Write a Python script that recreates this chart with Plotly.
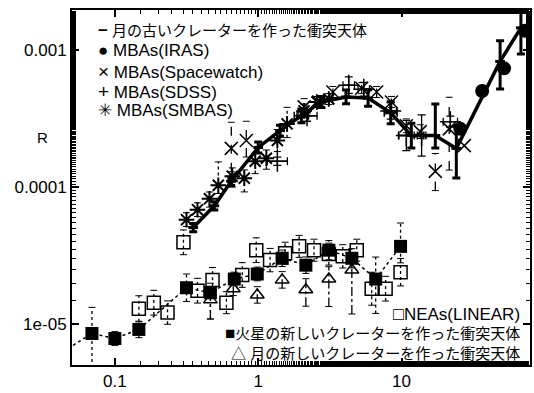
import plotly.graph_objects as go

# ---------------- data ----------------
# Lunar old-crater impactors (thick solid line)
lunar_old_x = [0.352, 0.494, 0.648, 1.0, 1.42, 2.0, 2.75, 4.1, 5.84, 8.4, 11.7, 17.2, 24.1, 48.7, 68.0]
lunar_old_y = [5.07e-5, 7.3e-5, 1.10e-4, 1.94e-4, 2.57e-4, 3.30e-4, 4.16e-4, 4.52e-4, 4.44e-4,
               3.47e-4, 2.37e-4, 2.37e-4, 1.91e-4, 8.2e-4, 1.44e-3]
lunar_old_up_dex = [0.03, 0.03, 0.03, 0.04, 0.04, 0.05, 0.04, 0.05, 0.06, 0.08, 0.09, 0.23, 0.165, 0.15, 0.13]
lunar_old_dn_dex = [0.03, 0.03, 0.03, 0.04, 0.04, 0.05, 0.04, 0.05, 0.06, 0.08, 0.09, 0.09, 0.216, 0.20, 0.19]
lunar_old_xerr_dex = [0, 0, 0, 0, 0, 0.05, 0, 0, 0, 0.045, 0.087, 0, 0, 0, 0]

# MBAs (IRAS)
iras_x = [25.7, 36.5, 51.9, 72.6]
iras_y = [2.65e-4, 4.99e-4, 7.3e-4, 1.37e-3]

# MBAs (Spacewatch)
sw_x = [0.649, 0.826, 2.09, 2.65, 3.32, 5.27, 6.7, 8.5, 10.8, 13.5, 17.2, 21.5, 27.4]
sw_y = [1.91e-4, 2.18e-4, 3.83e-4, 4.16e-4, 4.91e-4, 5.24e-4, 4.91e-4, 4.16e-4, 2.79e-4,
        2.53e-4, 1.30e-4, 2.65e-4, 2.00e-4]
sw_up_dex = [0.19, 0.14, 0.06, 0.04, 0.04, 0.04, 0.04, 0.04, 0.05, 0.05, 0.13, 0.23, 0.0]
sw_dn_dex = [0.17, 0.12, 0.06, 0.04, 0.04, 0.04, 0.04, 0.04, 0.05, 0.05, 0.14, 0.30, 0.0]

# MBAs (SDSS)
sdss_x = [1.36, 2.19, 4.28, 5.45, 8.4, 10.8, 13.8, 21.9]
sdss_y = [1.54e-4, 3.30e-4, 5.51e-4, 5.15e-4, 3.58e-4, 2.37e-4, 2.37e-4, 2.99e-4]
sdss_yerr_dex = [0.03, 0.04, 0.06, 0.05, 0.06, 0.11, 0.15, 0.04]
sdss_xerr_dex = [0.07, 0.07, 0.04, 0.04, 0.04, 0.055, 0.03, 0.05]

# MBAs (SMBAS)
smbas_x = [0.316, 0.377, 0.457, 0.527, 0.659, 0.80, 0.953, 1.14, 1.36, 1.59, 2.09, 2.57, 3.11]
smbas_y = [5.79e-5, 6.84e-5, 8.2e-5, 1.03e-4, 1.20e-4, 1.16e-4, 1.54e-4, 1.62e-4, 2.18e-4,
           2.88e-4, 3.58e-4, 4.16e-4, 4.37e-4]
smbas_up_dex = [0.05, 0.05, 0.05, 0.17, 0.06, 0.06, 0.06, 0.06, 0.08, 0.12, 0.05, 0.04, 0.04]
smbas_dn_dex = [0.05, 0.05, 0.06, 0.06, 0.08, 0.10, 0.09, 0.08, 0.08, 0.10, 0.05, 0.04, 0.04]

# NEAs (LINEAR)
nea_x = [0.147, 0.187, 0.233, 0.301, 0.377, 0.480, 0.600, 0.774, 0.969, 1.21, 1.54, 1.93,
         2.45, 3.11, 3.89, 4.87, 6.19, 7.74, 9.84]
nea_y = [1.30e-5, 1.44e-5, 1.22e-5, 3.96e-5, 1.76e-5, 2.11e-5, 1.44e-5, 2.29e-5, 3.47e-5,
         2.94e-5, 3.30e-5, 3.70e-5, 3.47e-5, 3.25e-5, 3.13e-5, 3.47e-5, 1.82e-5, 1.82e-5, 2.40e-5]
nea_err_dex = [0.095, 0.09, 0.085, 0.09, 0.09, 0.09, 0.08, 0.09, 0.09, 0.085, 0.08, 0.08,
               0.08, 0.08, 0.085, 0.08, 0.12, 0.09, 0.10]

# Mars new-crater impactors
mars_x = [0.04, 0.0692, 0.100, 0.147, 0.316, 0.464, 0.681, 0.985, 1.47, 2.15, 3.11, 4.50, 6.6, 9.84]
mars_y = [6.0e-6, 8.6e-6, 7.9e-6, 9.2e-6, 1.85e-5, 1.70e-5, 2.14e-5, 2.33e-5, 3.03e-5, 2.70e-5,
          3.47e-5, 3.03e-5, 2.14e-5, 3.70e-5]
mars_up_dex = [0, 0.19, 0.05, 0.06, 0.10, 0.07, 0.05, 0.05, 0.06, 0.06, 0.07, 0.07, 0.16, 0.17]
mars_dn_dex = [0, 0.60, 0.05, 0.06, 0.10, 0.19, 0.05, 0.05, 0.06, 0.06, 0.07, 0.07, 0.25, 0.12]

# Moon new-crater impactors
moon_new_x = [0.464, 0.670, 0.985, 1.47, 2.15, 3.11, 4.50]
moon_new_y = [1.51e-5, 1.82e-5, 1.64e-5, 2.11e-5, 1.79e-5, 2.14e-5, 2.49e-5]
moon_new_up_dex = [0.05, 0.05, 0.06, 0.06, 0.08, 0.09, 0.10]
moon_new_dn_dex = [0.14, 0.05, 0.06, 0.06, 0.12, 0.20, 0.32]

# axis ticks
x_tickvals = [0.1, 1, 10]
x_ticktext = ["0.1", "1", "10"]
y_tickvals = [1e-5, 1e-4, 1e-3]
y_ticktext = ["1e-05", "0.0001", "0.001"]

# legend texts
top_legend_symbols = ["<b>−</b>", "●", "×", "+", "✳"]
top_legend_labels = ["月の古いクレーターを作った衝突天体", "MBAs(IRAS)", "MBAs(Spacewatch)",
                     "MBAs(SDSS)", "MBAs(SMBAS)"]
bottom_legend_symbols = ["□", "■", "△ "]
bottom_legend_labels = ["NEAs(LINEAR)", "火星の新しいクレーターを作った衝突天体",
                        "月の新しいクレーターを作った衝突天体"]

# ---------------- helpers ----------------
FONT = "Liberation Sans, Arial, Noto Sans CJK JP, sans-serif"


def up_err(y, d):
    return [v * (10 ** e - 1) for v, e in zip(y, d)]


def dn_err(y, d):
    return [v * (1 - 10 ** (-e)) for v, e in zip(y, d)]


def bar_segments(xs, ys, up, dn):
    X, Y = [], []
    for x, y, u, d in zip(xs, ys, up, dn):
        if u == 0 and d == 0:
            continue
        X += [x, x, None]
        Y += [y / 10 ** d, y * 10 ** u, None]
    return X, Y


def bar_trace(xs, ys, up, dn, dash, width=1.3):
    X, Y = bar_segments(xs, ys, up, dn)
    return go.Scatter(x=X, y=Y, mode="lines+markers",
                      line=dict(color="black", width=width, dash=dash),
                      marker=dict(symbol="line-ew-open", size=5, color="black", line=dict(width=1)),
                      hoverinfo="skip", showlegend=False)


fig = go.Figure()

# dashed / dotted error bars
fig.add_trace(bar_trace(nea_x, nea_y, nea_err_dex, nea_err_dex, "dot"))
fig.add_trace(bar_trace(mars_x, mars_y, mars_up_dex, mars_dn_dex, "dot"))
fig.add_trace(bar_trace(moon_new_x, moon_new_y, moon_new_up_dex, moon_new_dn_dex, "dashdot"))
fig.add_trace(bar_trace(sw_x, sw_y, sw_up_dex, sw_dn_dex, "dash"))
fig.add_trace(bar_trace(smbas_x, smbas_y, smbas_up_dex, smbas_dn_dex, "dot"))

# NEAs (LINEAR)
fig.add_trace(go.Scatter(x=nea_x, y=nea_y, mode="markers",
                         marker=dict(symbol="square-open", size=13, color="black", line=dict(width=1.5))))
# Mars new craters
fig.add_trace(go.Scatter(x=mars_x, y=mars_y, mode="lines+markers",
                         line=dict(color="black", width=1.5, dash="dot"),
                         marker=dict(symbol="square", size=13, color="black")))
# Moon new craters
fig.add_trace(go.Scatter(x=moon_new_x, y=moon_new_y, mode="markers",
                         marker=dict(symbol="triangle-up-open", size=12, color="black", line=dict(width=1.5))))

# SMBAS
fig.add_trace(go.Scatter(x=smbas_x, y=smbas_y, mode="markers",
                         marker=dict(symbol="asterisk-open", size=13, color="black", line=dict(width=2))))
# Spacewatch
fig.add_trace(go.Scatter(x=sw_x, y=sw_y, mode="markers",
                         marker=dict(symbol="x-thin-open", size=13, color="black", line=dict(width=1.5))))
# SDSS
fig.add_trace(go.Scatter(x=sdss_x, y=sdss_y, mode="markers",
                         marker=dict(symbol="cross-thin-open", size=15, color="black", line=dict(width=1.5)),
                         error_y=dict(type="data", symmetric=False,
                                      array=up_err(sdss_y, sdss_yerr_dex),
                                      arrayminus=dn_err(sdss_y, sdss_yerr_dex),
                                      color="black", thickness=1.3, width=4),
                         error_x=dict(type="data", symmetric=False,
                                      array=up_err(sdss_x, sdss_xerr_dex),
                                      arrayminus=dn_err(sdss_x, sdss_xerr_dex),
                                      color="black", thickness=1.3, width=4)))
# Lunar old craters
fig.add_trace(go.Scatter(x=lunar_old_x, y=lunar_old_y, mode="lines+markers",
                         line=dict(color="black", width=3.5),
                         marker=dict(symbol="line-ew-open", size=7, color="black", line=dict(width=3)),
                         error_y=dict(type="data", symmetric=False,
                                      array=up_err(lunar_old_y, lunar_old_up_dex),
                                      arrayminus=dn_err(lunar_old_y, lunar_old_dn_dex),
                                      color="black", thickness=3, width=4),
                         error_x=dict(type="data", symmetric=False,
                                      array=up_err(lunar_old_x, lunar_old_xerr_dex),
                                      arrayminus=dn_err(lunar_old_x, lunar_old_xerr_dex),
                                      color="black", thickness=1.5, width=4)))
# IRAS
fig.add_trace(go.Scatter(x=iras_x, y=iras_y, mode="markers",
                         marker=dict(symbol="circle", size=14, color="black")))

# ---------------- layout ----------------
W, H = 534, 393
ML, MR, MT, MB = 72, 2, 10, 24
PW, PH = W - ML - MR, H - MT - MB


def px(xp):
    return (xp - ML) / PW


def py(yp):
    return (H - MB - yp) / PH


axis_common = dict(showline=True, linewidth=2, linecolor="black", mirror="allticks",
                   ticks="inside", ticklen=7, tickwidth=1.5, tickcolor="black",
                   showgrid=False, zeroline=False,
                   tickfont=dict(family=FONT, size=17, color="black"),
                   minor=dict(ticks="inside", ticklen=4, tickwidth=1, tickcolor="black", showgrid=False))

fig.update_layout(
    width=W, height=H,
    margin=dict(l=ML, r=MR, t=MT, b=MB),
    paper_bgcolor="white", plot_bgcolor="white",
    showlegend=False,
    font=dict(family=FONT, color="black"),
    xaxis=dict(type="log", range=[-1.299, 1.896], tickvals=x_tickvals, ticktext=x_ticktext, **axis_common),
    yaxis=dict(type="log", range=[-5.295, -2.712], tickvals=y_tickvals, ticktext=y_ticktext, **axis_common),
)

annotations = [dict(text="R", x=px(35), y=py(128), xref="paper", yref="paper",
                    showarrow=False, font=dict(family=FONT, size=15, color="black"))]


def sym_span(s, size):
    return '<span style="font-size:%dpx">%s</span>' % (size, s)


top_rows = [31, 51, 72, 92, 112]
top_sym_sizes = [17, 17, 19, 19, 17]
for sym, lab, yy, ss in zip(top_legend_symbols, top_legend_labels, top_rows, top_sym_sizes):
    size = 15 if lab[0] > "~" else 17
    annotations.append(dict(text=sym_span(sym, ss) + " " + lab, x=px(96), y=py(yy),
                            xref="paper", yref="paper",
                            xanchor="left", yanchor="middle", showarrow=False,
                            font=dict(family=FONT, size=size, color="black")))

bottom_rows = [317, 337, 357]
bottom_sym_sizes = [18, 17, 15]
for sym, lab, yy, ss in zip(bottom_legend_symbols, bottom_legend_labels, bottom_rows, bottom_sym_sizes):
    size = 15 if lab[0] > "~" else 17
    annotations.append(dict(text=sym_span(sym, ss) + lab, x=px(524), y=py(yy),
                            xref="paper", yref="paper",
                            xanchor="right", yanchor="middle", showarrow=False,
                            font=dict(family=FONT, size=size, color="black")))

fig.update_layout(annotations=annotations)

fig.write_html("out.html")
